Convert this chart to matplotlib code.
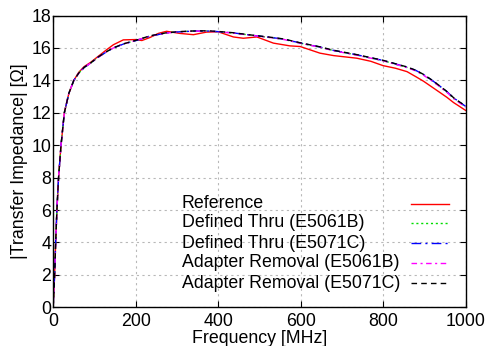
import matplotlib
matplotlib.use('Agg')
import matplotlib.pyplot as plt

plt.rcParams['font.family'] = ['Liberation Sans', 'DejaVu Sans']

# reference measurement (solid red)
ref_freq = [0, 2, 3.5, 6, 9, 13, 19, 27, 38, 50, 62, 75, 90, 110, 130, 146, 170, 200,
            215, 235, 255, 275, 307, 340, 372, 400, 437, 461, 494, 534, 574, 599, 647,
            680, 736, 770, 800, 830, 858, 880, 898, 918, 938, 955, 971, 985, 1000]
ref_z = [0, 1.2, 2, 4, 6, 8, 10, 12, 13.2, 14.0, 14.5, 14.85, 15.1, 15.5, 15.9, 16.2, 16.5, 16.52,
         16.46, 16.65, 16.9, 17.03, 16.9, 16.82, 16.98, 17.0, 16.68, 16.6, 16.68, 16.3, 16.13, 16.09, 15.68,
         15.53, 15.37, 15.18, 14.91, 14.75, 14.54, 14.22, 13.95, 13.6, 13.25, 12.95, 12.63, 12.4, 12.15]

# de-embedded results
meas_freq = [0, 2, 3.5, 6, 9, 13, 19, 27, 38, 50, 62, 75, 90, 110, 130, 146, 170, 200,
             235, 275, 307, 340, 372, 400, 437, 477, 534, 558, 599, 647, 680, 736, 800,
             858, 880, 898, 918, 938, 955, 971, 985, 1000]
dt_5061b = [0, 1.2, 2, 4, 6, 8, 10, 12, 13.2, 14.0, 14.45, 14.8, 15.05, 15.45, 15.78, 16.0, 16.25, 16.46,
            16.74, 16.93, 17.0, 17.05, 17.05, 17.0, 16.92, 16.8, 16.62, 16.54, 16.3, 16.05, 15.84, 15.57, 15.22,
            14.8, 14.6, 14.34, 14.0, 13.62, 13.28, 12.9, 12.65, 12.38]
dt_5071c = [0, 1.2, 2, 4, 6, 8, 10, 12, 13.2, 14.0, 14.45, 14.8, 15.05, 15.45, 15.77, 16.0, 16.24, 16.45,
            16.73, 16.93, 17.0, 17.04, 17.05, 17.01, 16.93, 16.8, 16.63, 16.55, 16.31, 16.06, 15.85, 15.58, 15.23,
            14.82, 14.61, 14.36, 14.02, 13.64, 13.3, 12.92, 12.67, 12.4]
ar_5061b = [0, 1.2, 2, 4, 6, 8, 10, 12, 13.2, 14.0, 14.44, 14.8, 15.05, 15.44, 15.78, 16.0, 16.25, 16.46,
            16.74, 16.92, 17.0, 17.04, 17.04, 17.0, 16.92, 16.79, 16.62, 16.53, 16.3, 16.04, 15.83, 15.56, 15.21,
            14.79, 14.58, 14.32, 13.98, 13.6, 13.26, 12.88, 12.62, 12.35]
ar_5071c = [0, 1.2, 2, 4, 6, 8, 10, 12, 13.2, 14.0, 14.45, 14.8, 15.06, 15.46, 15.78, 16.01, 16.25, 16.47,
            16.75, 16.94, 17.01, 17.05, 17.06, 17.02, 16.94, 16.81, 16.64, 16.56, 16.32, 16.07, 15.86, 15.59, 15.24,
            14.83, 14.62, 14.37, 14.03, 13.65, 13.31, 12.93, 12.68, 12.42]

labels = ['Reference', 'Defined Thru (E5061B)', 'Defined Thru (E5071C)',
          'Adapter Removal (E5061B)', 'Adapter Removal (E5071C)']
styles = [('red', '-'), ('#00dd00', (0, (1.5, 2))), ('blue', (0, (7, 3, 1.5, 3))),
          ('magenta', (0, (4, 2.5, 1.5, 2.5))), ('black', (0, (4, 3)))]

fig = plt.figure(figsize=(4.88, 3.46), dpi=100)
ax = fig.add_axes([0.109, 0.112, 0.845, 0.843])

series = [(ref_freq, ref_z), (meas_freq, dt_5061b), (meas_freq, dt_5071c),
          (meas_freq, ar_5061b), (meas_freq, ar_5071c)]
for (f, z), (c, ls) in zip(series, styles):
    ax.plot(f, z, color=c, linestyle=ls, linewidth=1.0)

ax.set_xlim(0, 1000)
ax.set_ylim(0, 18)
ax.set_xticks(range(0, 1001, 200))
ax.set_yticks(range(0, 19, 2))
ax.grid(True, color='#b8b8b8', linestyle=(0, (2, 3)), linewidth=0.8)
ax.tick_params(direction='in', length=4, top=True, right=True, labelsize=12.8)
ax.tick_params(axis='x', pad=4.5)
ax.tick_params(axis='y', pad=1.5)
for s in ax.spines.values():
    s.set_linewidth(1.0)
ax.set_xlabel('Frequency [MHz]', fontsize=12.8, labelpad=0)
ax.set_ylabel('|Transfer Impedance| [\u03a9]', fontsize=12.8, labelpad=2)

# legend, text on the left and samples on the right (no frame)
leg_y = [0.354, 0.289, 0.220, 0.152, 0.083]
for lab, (c, ls), y in zip(labels, styles, leg_y):
    ax.text(0.312, y, lab, transform=ax.transAxes, fontsize=12.8, va='center', ha='left')
    ax.plot([0.868, 0.961], [y, y], transform=ax.transAxes, color=c, linestyle=ls, linewidth=1.0)

fig.savefig('out.png', dpi=100)
